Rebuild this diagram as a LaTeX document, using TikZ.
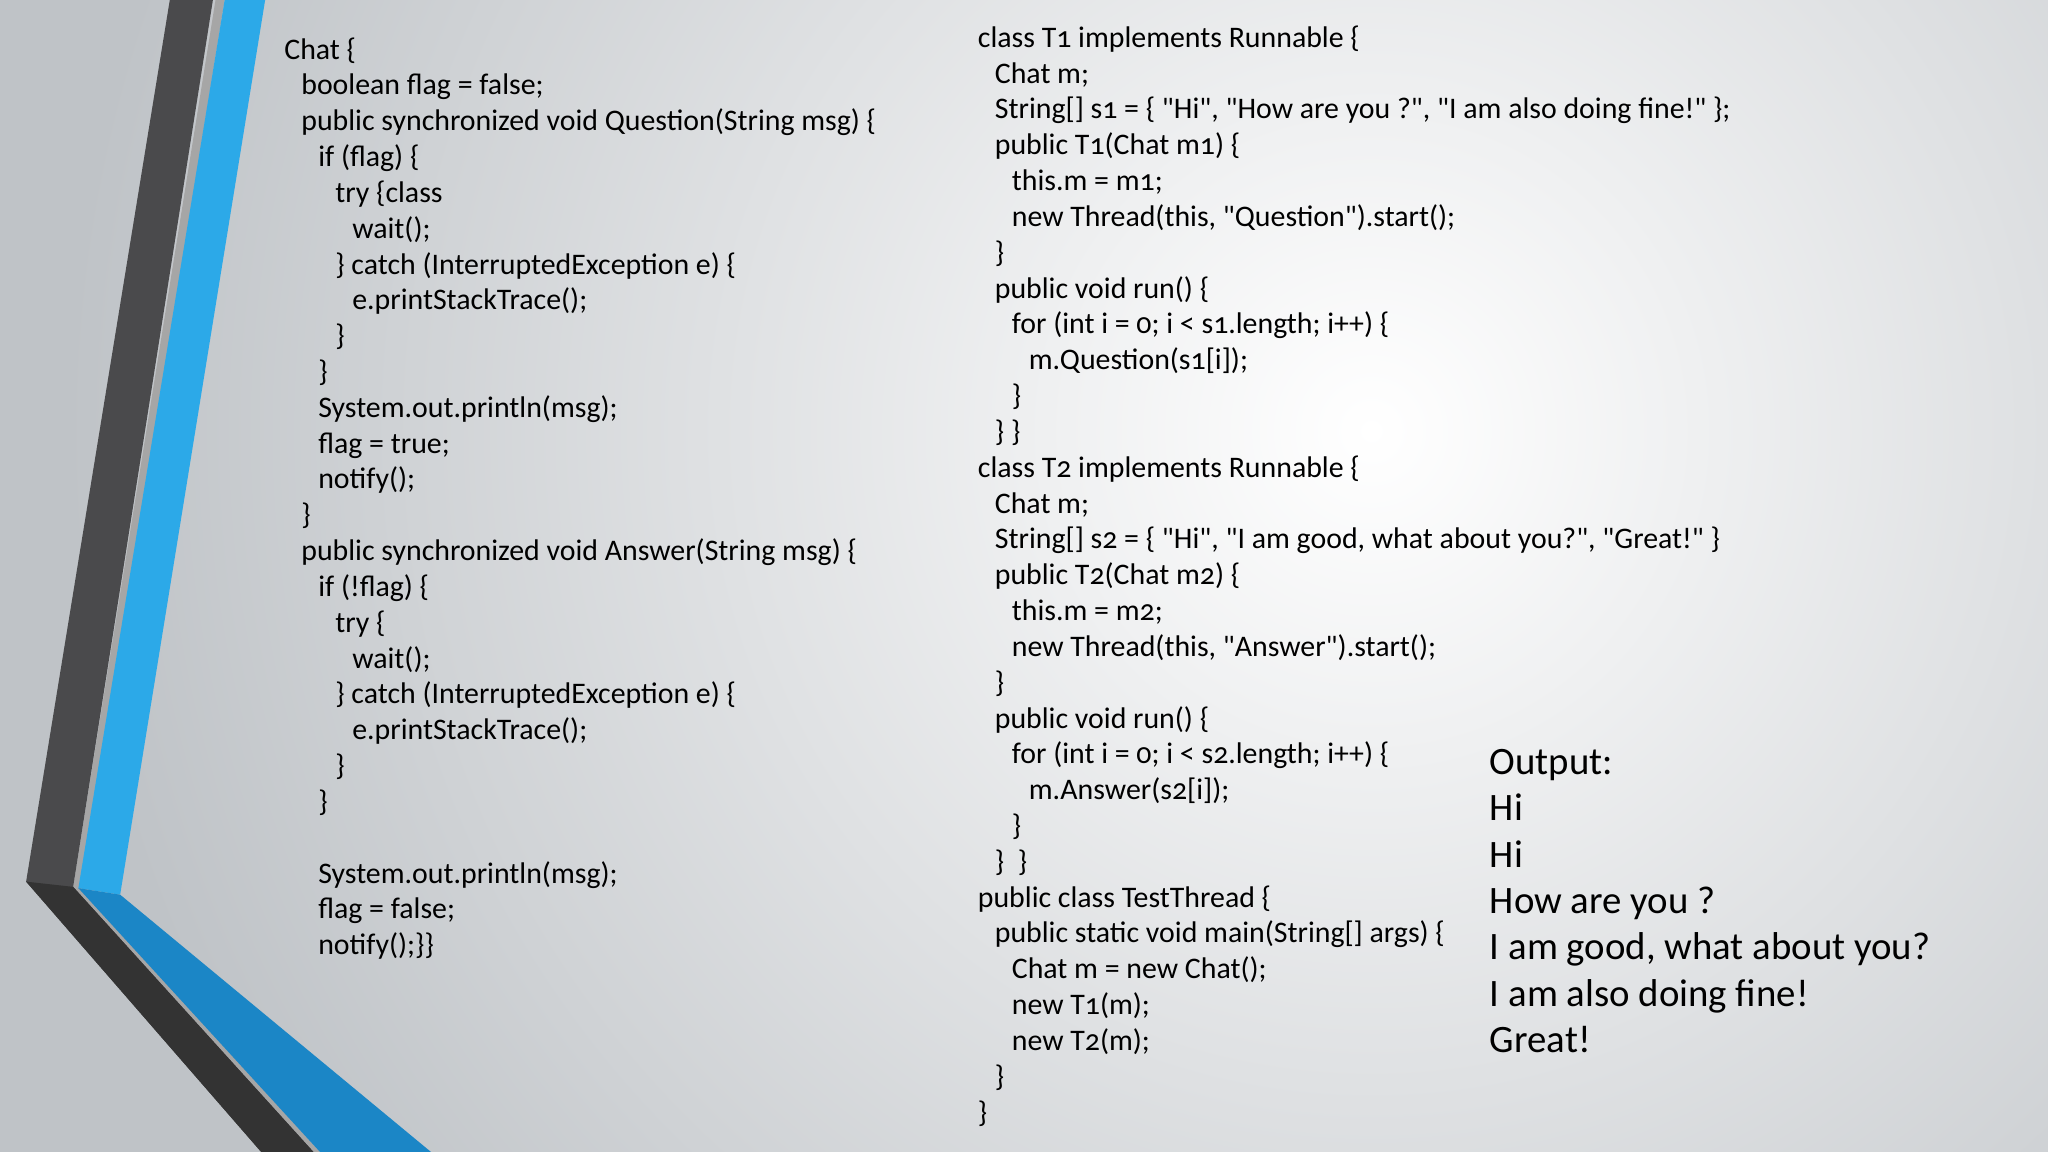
\documentclass[tikz,border=0pt]{standalone}
\usepackage{fontspec}
\setmainfont{Carlito}[Numbers=OldStyle,Ligatures=TeXOff]
\newcommand{\ind}[1]{\hspace*{#1\dimexpr0.13cm\relax}\ignorespaces}
\newcommand{\q}{\symbol{34}}
\tikzset{
  code/.style={anchor=north west, inner sep=0pt, align=left, font=\fontsize{6.5pt}{7.8pt}\selectfont, text=black},
  outp/.style={anchor=north west, inner sep=0pt, align=left, font=\fontsize{8.45pt}{10.08pt}\selectfont, text=black}
}
\definecolor{bgout}{HTML}{BFC3C7}
\definecolor{darkband}{HTML}{4A4A4C}
\definecolor{blueup}{HTML}{2CA9E8}
\definecolor{bluelow}{HTML}{1B86C6}
\begin{document}
\begin{tikzpicture}[x=0.01cm,y=-0.01cm]
\useasboundingbox (0,0) rectangle (1568,882);
\begin{scope}
\clip (0,0) rectangle (1568,882);
\fill[bgout] (0,0) rectangle (1568,882);
\shade[inner color=white, outer color=bgout] (1050,330) circle (1000);
\fill[gray!70] (165,0) -- (172,0) -- (62,680) -- (245,882) -- (238,882) -- (56,679) -- cycle;
\fill[darkband] (130,0) -- (163,0) -- (56,679) -- (240,882) -- (200,882) -- (20,675) -- cycle;
\fill[blueup] (172,0) -- (203,0) -- (92,685) -- (60,680) -- cycle;
\fill[bluelow] (60,680) -- (92,685) -- (330,882) -- (245,882) -- cycle;
\fill[black!80] (20,675) -- (56,679) -- (240,882) -- (200,882) -- cycle;
\end{scope}
\node[code] (left) at (217,28) {%
Chat \{\\
\ind1 boolean flag = false;\\
\ind1 public synchronized void Question(String msg) \{\\
\ind2 if (flag) \{\\
\ind3 try \{class\\
\ind4 wait();\\
\ind3 \} catch (InterruptedException e) \{\\
\ind4 e.printStackTrace();\\
\ind3 \}\\
\ind2 \}\\
\ind2 System.out.println(msg);\\
\ind2 flag = true;\\
\ind2 notify();\\
\ind1 \}\\
\ind1 public synchronized void Answer(String msg) \{\\
\ind2 if (!flag) \{\\
\ind3 try \{\\
\ind4 wait();\\
\ind3 \} catch (InterruptedException e) \{\\
\ind4 e.printStackTrace();\\
\ind3 \}\\
\ind2 \}\\
\mbox{}\\
\ind2 System.out.println(msg);\\
\ind2 flag = false;\\
\ind2 notify();\}\}};
\node[code] (right) at (748,19) {%
class T1 implements Runnable \{\\
\ind1 Chat m;\\
\ind1 String[] s1 = \{ \q Hi\q, \q How are you ?\q, \q I am also doing fine!\q\ \};\\
\ind1 public T1(Chat m1) \{\\
\ind2 this.m = m1;\\
\ind2 new Thread(this, \q Question\q).start();\\
\ind1 \}\\
\ind1 public void run() \{\\
\ind2 for (int i = 0; i < s1.length; i++) \{\\
\ind3 m.Question(s1[i]);\\
\ind2 \}\\
\ind1 \} \}\\
class T2 implements Runnable \{\\
\ind1 Chat m;\\
\ind1 String[] s2 = \{ \q Hi\q, \q I am good, what about you?\q, \q Great!\q\ \}\\
\ind1 public T2(Chat m2) \{\\
\ind2 this.m = m2;\\
\ind2 new Thread(this, \q Answer\q).start();\\
\ind1 \}\\
\ind1 public void run() \{\\
\ind2 for (int i = 0; i < s2.length; i++) \{\\
\ind3 m.Answer(s2[i]);\\
\ind2 \}\\
\ind1 \}\ \ \}\\
public class TestThread \{\\
\ind1 public static void main(String[] args) \{\\
\ind2 Chat m = new Chat();\\
\ind2 new T1(m);\\
\ind2 new T2(m);\\
\ind1 \}\\
\}};
\node[outp] (out) at (1140,573) {Output:\\ Hi\\ Hi\\ How are you ?\\ I am good, what about you?\\ I am also doing fine!\\ Great!};
\end{tikzpicture}
\end{document}
